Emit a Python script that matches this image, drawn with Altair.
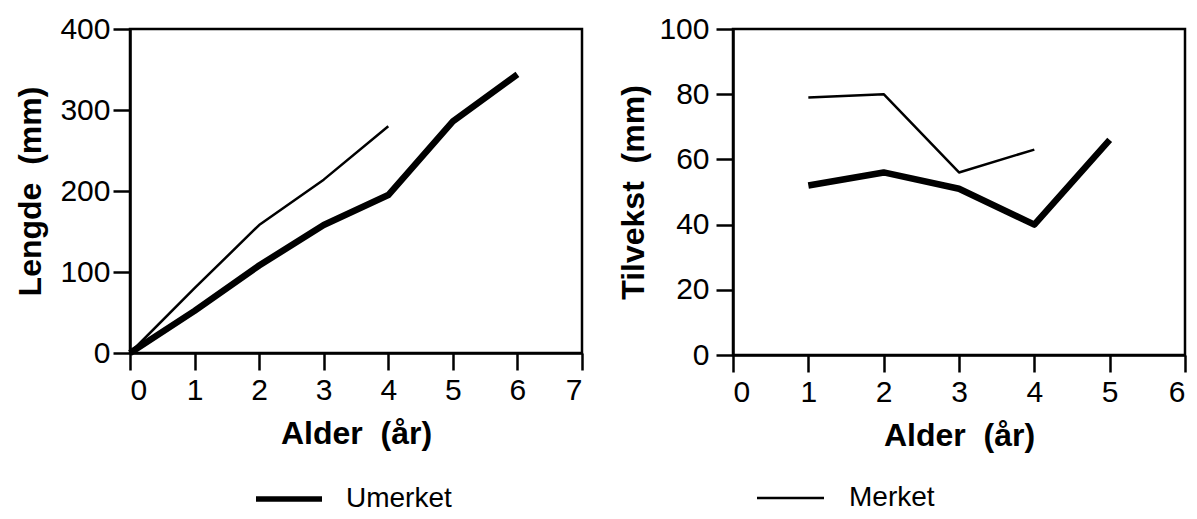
import altair as alt
import pandas as pd

# Left panel: Lengde (mm) vs Alder (år)
age_um_left = [0, 1, 2, 3, 4, 5, 6]
len_um = [0, 52, 108, 158, 195, 286, 344]
age_m_left = [0, 1, 2, 3, 4]
len_m = [0, 80, 158, 214, 280]

# Right panel: Tilvekst (mm) vs Alder (år)
age_um_right = [1, 2, 3, 4, 5]
gr_um = [52, 56, 51, 40, 66]
age_m_right = [1, 2, 3, 4]
gr_m = [79, 80, 56, 63]

groups = ["Umerket", "Merket"]
FONT = "Liberation Sans"
GAP = " \u00a0"


def frame(ages_u, vals_u, ages_m, vals_m):
    return pd.DataFrame({
        "age": ages_u + ages_m,
        "val": vals_u + vals_m,
        "group": [groups[0]] * len(ages_u) + [groups[1]] * len(ages_m),
    })


def panel(df, xmax, ymax, ystep, ytitle, ytitle_pad, ylabel_pad, w, h,
          leg_label, leg_width, leg_x, leg_len, leg_tx, leg_y):
    lines = alt.Chart(df).mark_line(color="black", strokeJoin="round", strokeCap="butt").encode(
        x=alt.X("age:Q",
                scale=alt.Scale(domain=[0, xmax], nice=False),
                axis=alt.Axis(values=list(range(xmax + 1)), title="Alder" + GAP + "(år)",
                              labelPadding=5, titlePadding=13)),
        y=alt.Y("val:Q",
                scale=alt.Scale(domain=[0, ymax], nice=False),
                axis=alt.Axis(values=list(range(0, ymax + 1, ystep)), title=ytitle,
                              labelPadding=ylabel_pad, titlePadding=ytitle_pad)),
        strokeWidth=alt.StrokeWidth("group:N",
                                    scale=alt.Scale(domain=groups, range=[6.5, 2.5]),
                                    legend=None),
        detail="group:N",
    )
    leg = pd.DataFrame({"label": [leg_label]})
    rule = alt.Chart(leg).mark_rule(color="black", strokeWidth=leg_width).encode(
        x=alt.value(leg_x), x2=alt.value(leg_x + leg_len), y=alt.value(leg_y))
    text = alt.Chart(leg).mark_text(align="left", baseline="middle", fontSize=28,
                                    font=FONT, color="black").encode(
        x=alt.value(leg_tx), y=alt.value(leg_y), text="label:N")
    return alt.layer(lines, rule, text).properties(width=w, height=h)


left = panel(frame(age_um_left, len_um, age_m_left, len_m), 7, 400, 100,
             "Lengde" + GAP + "(mm)", 12, 3, 452, 324,
             "Umerket", 5.5, 126, 66, 216, 470)
right = panel(frame(age_um_right, gr_um, age_m_right, gr_m), 6, 100, 20,
              "Tilvekst" + GAP + "(mm)", 8, 7, 452, 326,
              "Merket", 2.5, 24, 67, 116, 469)

chart = alt.hconcat(left, right, spacing=31).resolve_scale(
    x="independent", y="independent", strokeWidth="independent"
).properties(
    padding={"left": 5, "top": 4, "right": 0, "bottom": 0}
).configure(
    background="white"
).configure_view(
    stroke="black", strokeWidth=2.5
).configure_axis(
    domainColor="black", domainWidth=2.5, tickColor="black", tickWidth=2.5,
    tickSize=17, labelFontSize=30, labelColor="black", labelFont=FONT,
    titleFontSize=32, titleFont=FONT, titleFontWeight="bold", titleColor="black",
    grid=False,
)

chart.save("out.html", embed_options={"renderer": "svg", "actions": False})
